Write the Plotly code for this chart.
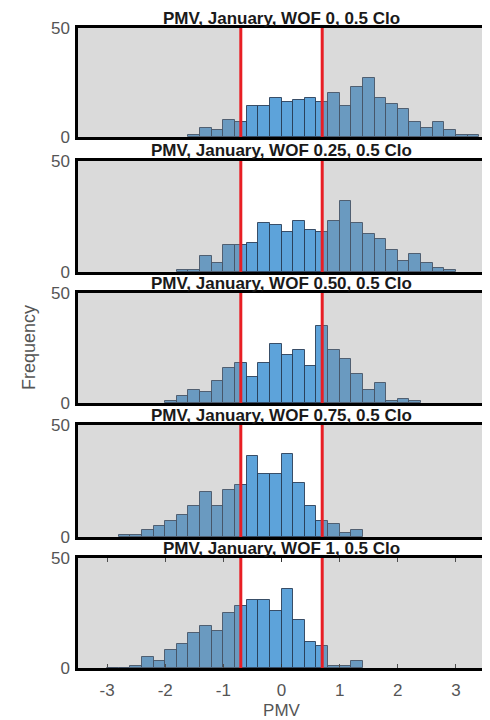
import plotly.graph_objects as go

bin_centers = [round(-3.3 + 0.2 * i, 1) for i in range(34)]

N = None  # bins outside the data range (not drawn)
wof_0 = [N, N, N, N, N, N, N, N, N, 1, 4, 3, 8, 7, 14, 14, 18, 16, 17, 18, 16, 20, 14, 23, 27, 18, 15, 13, 7, 4, 7, 3, 1, 1]
wof_025 = [N, N, N, N, N, N, N, N, 1, 1, 7, 4, 12, 12, 13, 22, 21, 18, 23, 19, 18, 23, 32, 22, 17, 15, 10, 5, 8, 4, 2, 1, N, N]
wof_050 = [N, N, N, N, N, N, N, 1, 3, 6, 5, 10, 16, 18, 12, 18, 27, 22, 24, 17, 35, 24, 20, 13, 6, 9, 1, 2, 1, N, N, N, N, N]
wof_075 = [N, N, N, 1, 1, 3, 5, 7, 10, 14, 20, 14, 21, 23, 36, 28, 28, 37, 24, 14, 7, 6, 2, 3, N, N, N, N, N, N, N, N, N, N]
wof_1 = [N, N, 0, 0, 1, 5, 3, 8, 11, 16, 19, 17, 25, 28, 31, 31, 26, 36, 22, 12, 10, 1, 1, 3, N, N, N, N, N, N, N, N, N, N]

series = [wof_0, wof_025, wof_050, wof_075, wof_1]
titles = [
    "PMV, January, WOF 0, 0.5 Clo",
    "PMV, January, WOF 0.25, 0.5 Clo",
    "PMV, January, WOF 0.50, 0.5 Clo",
    "PMV, January, WOF 0.75, 0.5 Clo",
    "PMV, January, WOF 1, 0.5 Clo",
]
x_ticks = [-3, -2, -1, 0, 1, 2, 3]
x_tick_labels = ["-3", "-2", "-1", "0", "1", "2", "3"]
y_ticks = [0, 50]
y_tick_labels = ["0", "50"]
comfort_limits = [-0.7, 0.7]
x_range = [-3.5, 3.5]
y_range = [0, 50]

# page has an 8px body margin, so the figure is drawn 8px smaller / offset
OFF = 8
W, H = 490 - OFF, 720 - OFF
ML, MR, MT, MB = 78 - OFF, 5, 28 - OFF, 52
plot_h = H - MT - MB
panel_px = [(28, 137), (161, 272), (293, 403), (425, 537), (558, 668)]

def to_paper(px):
    return (H - MB - (px - OFF)) / plot_h

FONT = "Liberation Sans, Arial, sans-serif"
fig = go.Figure()
layout = dict(
    width=W, height=H,
    margin=dict(l=ML, r=MR, t=MT, b=MB, autoexpand=False),
    paper_bgcolor="white", plot_bgcolor="white",
    showlegend=False, bargap=0,
    font=dict(family=FONT, color="#555555", size=17),
)
shapes = []
annotations = []
n = len(series)
for i, (vals, ttl) in enumerate(zip(series, titles)):
    k = "" if i == 0 else str(i + 1)
    xa, ya = "x" + k, "y" + k
    fig.add_trace(go.Bar(
        x=bin_centers, y=vals, width=0.2, xaxis=xa, yaxis=ya,
        marker=dict(color="rgb(93,163,218)",
                    line=dict(color="rgba(35,55,80,0.85)", width=1)),
    ))
    top, bot = panel_px[i]
    dom = [to_paper(bot), to_paper(top)]
    last = i == n - 1
    layout["xaxis" + k] = dict(
        domain=[0, 1], range=x_range, anchor=ya, automargin=False,
        tickvals=x_ticks, ticktext=x_tick_labels, showticklabels=last,
        ticks="inside" if last else "", ticklen=4, tickcolor="#333",
        showline=True, linecolor="black", linewidth=2.5,
        mirror="ticks" if last else True,
        showgrid=False, zeroline=False,
        ticklabelstandoff=5,
        tickfont=dict(size=17, color="#555555"),
        title=dict(text="PMV", font=dict(size=17, color="#555555"), standoff=10) if last else None,
    )
    layout["yaxis" + k] = dict(
        domain=dom, range=y_range, anchor=xa, automargin=False,
        tickvals=y_ticks, ticktext=y_tick_labels, ticks="",
        showline=True, linecolor="black",
        linewidth=2.5, mirror=True, showgrid=False, zeroline=False,
        ticklabelstandoff=2,
        tickfont=dict(size=17, color="#555555"),
    )
    for x0, x1 in [(x_range[0], comfort_limits[0]), (comfort_limits[1], x_range[1])]:
        shapes.append(dict(type="rect", xref=xa, yref=ya, x0=x0, x1=x1,
                           y0=y_range[0], y1=y_range[1], fillcolor="rgb(134,134,134)",
                           opacity=0.31, line=dict(width=0), layer="above"))
    for cl in comfort_limits:
        shapes.append(dict(type="line", xref=xa, yref=ya, x0=cl, x1=cl,
                           y0=y_range[0], y1=y_range[1],
                           line=dict(color="rgb(232,30,36)", width=3), layer="above"))
    annotations.append(dict(
        text="<b>" + ttl + "</b>", xref="paper", yref="paper",
        x=0.5, y=dom[1], xanchor="center", yanchor="middle", yshift=10,
        borderpad=0,
        showarrow=False, font=dict(size=17, color="#1a1a1a", family=FONT),
    ))

annotations.append(dict(
    text="Frequency", xref="paper", yref="paper", x=0, y=to_paper(348),
    xanchor="center", yanchor="middle", xshift=29 - 78, textangle=-90,
    showarrow=False, font=dict(size=18, color="#555555", family=FONT),
))
layout["shapes"] = shapes
layout["annotations"] = annotations
fig.update_layout(**layout)
fig.write_html("out.html")
